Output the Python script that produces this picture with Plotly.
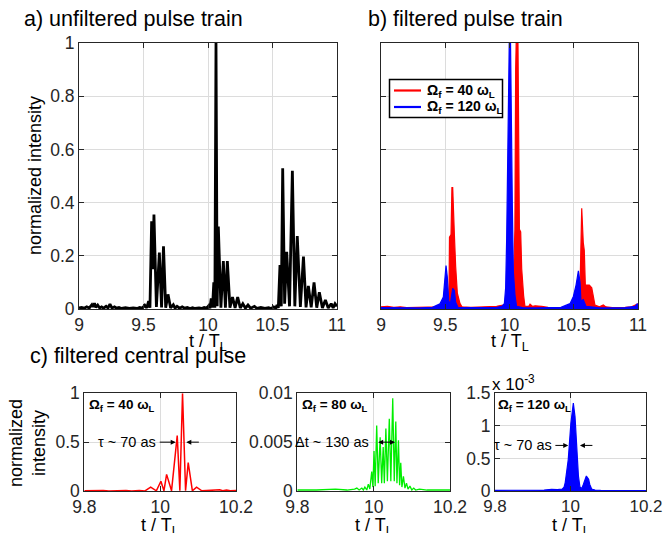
import plotly.graph_objects as go

# ---------------- data ----------------
# a) unfiltered pulse train (black)
A_T = [9.00, 9.02, 9.04, 9.06, 9.08, 9.10, 9.11, 9.12, 9.13, 9.145, 9.16, 9.175, 9.19, 9.21, 9.225,
       9.24, 9.255, 9.275, 9.29, 9.31, 9.33, 9.36, 9.39, 9.42, 9.45, 9.47, 9.49, 9.51, 9.525, 9.54,
       9.55, 9.563, 9.572, 9.581, 9.60, 9.623, 9.64, 9.655, 9.672, 9.69, 9.71, 9.731, 9.745, 9.76,
       9.78, 9.80, 9.82, 9.84, 9.86, 9.88, 9.90, 9.93, 9.95, 9.97, 9.99, 10.005, 10.015, 10.025,
       10.035, 10.045, 10.053, 10.062, 10.071, 10.08, 10.10, 10.119, 10.135, 10.15, 10.17, 10.19,
       10.21, 10.23, 10.25, 10.27, 10.29, 10.31, 10.33, 10.36, 10.38, 10.41, 10.44, 10.47, 10.49,
       10.51, 10.525, 10.535, 10.545, 10.558, 10.568, 10.579, 10.594, 10.61, 10.632, 10.654, 10.673,
       10.692, 10.716, 10.74, 10.76, 10.778, 10.80, 10.822, 10.843, 10.863, 10.887, 10.91, 10.932,
       10.955, 10.97, 10.985, 11.0]
A_Y = [0.004, 0.006, 0.003, 0.008, 0.004, 0.016, 0.008, 0.022, 0.006, 0.015, 0.004, 0.008, 0.003, 0.010, 0.004,
       0.018, 0.004, 0.008, 0.003, 0.006, 0.002, 0.005, 0.002, 0.004, 0.002, 0.006, 0.003, 0.014, 0.004, 0.030,
       0.005, 0.330, 0.150, 0.355, 0.008, 0.212, 0.006, 0.236, 0.005, 0.055, 0.004, 0.016, 0.003, 0.010,
       0.003, 0.008, 0.003, 0.006, 0.002, 0.005, 0.002, 0.004, 0.002, 0.006, 0.003, 0.012, 0.003, 0.040,
       0.005, 0.100, 0.005, 1.000, 0.010, 0.310, 0.005, 0.180, 0.005, 0.180, 0.005, 0.045,
       0.004, 0.045, 0.004, 0.020, 0.003, 0.015, 0.003, 0.010, 0.002, 0.006, 0.002, 0.005, 0.002,
       0.008, 0.003, 0.015, 0.004, 0.165, 0.010, 0.529, 0.020, 0.215, 0.010, 0.520, 0.010,
       0.274, 0.008, 0.197, 0.006, 0.087, 0.006, 0.100, 0.005, 0.063, 0.004, 0.034, 0.004,
       0.020, 0.004, 0.020, 0.010]

# b) filtered pulse train: envelopes
B_RED_T = [9.00, 9.05, 9.10, 9.15, 9.20, 9.30, 9.40, 9.45, 9.50, 9.525, 9.53, 9.533, 9.545, 9.552, 9.558,
           9.565, 9.571, 9.581, 9.594, 9.615, 9.63, 9.70, 9.80, 9.90, 9.95, 9.97, 10.00, 10.03, 10.042,
           10.048, 10.052, 10.066, 10.072, 10.077, 10.087, 10.095, 10.11, 10.12, 10.15, 10.16, 10.18,
           10.20, 10.25, 10.30, 10.40, 10.45, 10.50, 10.52, 10.54, 10.549, 10.554, 10.562, 10.574,
           10.582, 10.59, 10.621, 10.64, 10.652, 10.665, 10.70, 10.72, 10.73, 10.75, 10.80, 10.90,
           10.95, 11.00]
B_RED_Y = [0.008, 0.010, 0.006, 0.008, 0.005, 0.006, 0.005, 0.008, 0.010, 0.020, 0.100, 0.270, 0.280, 0.456, 0.456,
           0.300, 0.280, 0.160, 0.060, 0.020, 0.008, 0.006, 0.008, 0.010, 0.015, 0.020, 0.030, 0.100, 0.300,
           0.900, 1.000, 1.000, 0.500, 0.300, 0.290, 0.150, 0.050, 0.010, 0.010, 0.018, 0.010,
           0.012, 0.010, 0.006, 0.005, 0.006, 0.010, 0.015, 0.020, 0.080, 0.270, 0.379, 0.250,
           0.220, 0.090, 0.090, 0.080, 0.040, 0.015, 0.008, 0.012, 0.015, 0.008, 0.005, 0.006,
           0.008, 0.020]
B_BLUE_T = [9.00, 9.10, 9.20, 9.30, 9.40, 9.459, 9.485, 9.496, 9.506, 9.516, 9.527, 9.54, 9.558, 9.571,
            9.581, 9.60, 9.70, 9.80, 9.90, 9.94, 9.96, 9.97, 9.978, 9.985, 9.99, 9.998, 10.008, 10.015,
            10.022, 10.03, 10.043, 10.055, 10.10, 10.20, 10.30, 10.40, 10.471, 10.497, 10.518, 10.536,
            10.549, 10.556, 10.574, 10.595, 10.70, 10.80, 10.90, 10.977, 10.995, 11.0]
B_BLUE_Y = [0.005, 0.004, 0.005, 0.004, 0.006, 0.020, 0.045, 0.120, 0.163, 0.120, 0.030, 0.020, 0.078, 0.070,
            0.025, 0.005, 0.004, 0.005, 0.006, 0.010, 0.020, 0.080, 0.265, 0.550, 0.850, 1.000, 1.000, 0.600,
            0.390, 0.140, 0.050, 0.010, 0.005, 0.004, 0.004, 0.006, 0.020, 0.047, 0.090, 0.143,
            0.100, 0.030, 0.035, 0.010, 0.004, 0.004, 0.005, 0.010, 0.020, 0.010]
B_NAMES = ["Ω<sub>f</sub> = 40 ω<sub>L</sub>", "Ω<sub>f</sub> = 120 ω<sub>L</sub>"]

# c) filtered central pulse
C1_T = [9.80, 9.82, 9.835, 9.85, 9.865, 9.88, 9.895, 9.91, 9.925, 9.945, 9.96, 9.975, 9.99, 10.002, 10.01,
        10.017, 10.03, 10.045, 10.052, 10.059, 10.067, 10.074, 10.085, 10.096, 10.11, 10.125, 10.14,
        10.157, 10.165, 10.175, 10.185, 10.20]
C1_Y = [0.003, 0.005, 0.001, 0.004, 0.001, 0.003, 0.001, 0.004, 0.001, 0.006, 0.001, 0.040, 0.002, 0.100, 0.002,
        0.170, 0.002, 0.567, 0.003, 1.000, 0.003, 0.290, 0.002, 0.040, 0.002, 0.005, 0.001,
        0.012, 0.002, 0.010, 0.002, 0.004]

C2_T = [9.80, 9.85, 9.90, 9.93, 9.95, 9.956, 9.962, 9.969, 9.973, 9.977, 9.982, 9.986, 9.99, 9.995, 9.998,
        10.001, 10.004, 10.008, 10.012, 10.017, 10.021, 10.025, 10.028, 10.032, 10.036, 10.041, 10.045,
        10.050, 10.054, 10.058, 10.061, 10.065, 10.068, 10.071, 10.074, 10.078, 10.082, 10.086, 10.09,
        10.095, 10.10, 10.105, 10.11, 10.12, 10.14, 10.20]
C2_Y = [0.0001, 0.0001, 0.0002, 0.0001, 0.0002, 0.0003, 0.0001, 0.0003, 0.0001, 0.0004, 0.0001, 0.0007, 0.0002, 0.0020, 0.0004,
        0.0041, 0.0005, 0.0067, 0.0008, 0.0055, 0.0008, 0.0045, 0.0008, 0.0064, 0.0010, 0.0074, 0.0010,
        0.0095, 0.0010, 0.0071, 0.0008, 0.0052, 0.0006, 0.0029, 0.0004, 0.0015, 0.0003, 0.0008, 0.0002,
        0.0005, 0.0001, 0.0003, 0.0001, 0.0002, 0.0001, 0.0001]

C3_T = [9.80, 9.85, 9.90, 9.93, 9.95, 9.965, 9.978, 9.983, 9.986, 9.990, 9.994, 10.001, 10.005, 10.0075,
        10.012, 10.016, 10.021, 10.025, 10.03, 10.034, 10.038, 10.042, 10.048, 10.051, 10.056, 10.065,
        10.08, 10.12, 10.20]
C3_Y_E3 = [0.01, 0.01, 0.015, 0.015, 0.025, 0.02, 0.03, 0.06, 0.13, 0.30, 0.48, 1.04, 1.30, 1.35,
           1.14, 0.69, 0.23, 0.06, 0.04, 0.10, 0.18, 0.23, 0.18, 0.10, 0.03, 0.015,
           0.01, 0.008, 0.005]

TOP_XTICKS = [9, 9.5, 10, 10.5, 11]
TOP_YTICKS = [0, 0.2, 0.4, 0.6, 0.8, 1]
BOT_XTICKS = [9.8, 10, 10.2]
C1_YTICKS = [0, 0.5, 1]
C2_YTICKS = [0, 0.005, 0.01]
C3_YTICKS = [0, 0.5, 1, 1.5]

RED = "#ff0000"
BLUE = "#0000ff"
GREEN = "#00ee00"
BLACK = "#000000"

# ---------------- layout helpers ----------------
W, H = 665, 533
FONT = "Liberation Sans, Arial, Helvetica, sans-serif"
AX = "#262626"
GRID = "#dcdcdc"


def px_x(p):
    return p / W


def px_y(p):
    return 1 - p / H


def axis(dom, rng, tickvals, ticktext=None, showlabels=True, size=17.5):
    d = dict(domain=dom, range=rng, tickvals=tickvals, showline=True, linecolor=AX, linewidth=1,
             mirror="ticks", ticks="inside", ticklen=5, tickcolor=AX, showgrid=True, gridcolor=GRID,
             gridwidth=1, zeroline=False, showticklabels=showlabels, automargin=False,
             ticklabeloverflow="allow",
             tickfont=dict(family=FONT, size=size, color=AX), fixedrange=True)
    if ticktext is not None:
        d["ticktext"] = ticktext
    return d


fig = go.Figure()

# a)
fig.add_trace(go.Scatter(x=A_T, y=A_Y, mode="lines", line=dict(color=BLACK, width=2.8),
                         xaxis="x", yaxis="y", showlegend=False))
# b)
fig.add_trace(go.Scatter(x=B_RED_T, y=B_RED_Y, mode="lines", line=dict(color=RED, width=1.2),
                         fill="tozeroy", fillcolor=RED, xaxis="x2", yaxis="y2", showlegend=False,
                         name=B_NAMES[0]))
fig.add_trace(go.Scatter(x=B_BLUE_T, y=B_BLUE_Y, mode="lines", line=dict(color=BLUE, width=1.2),
                         fill="tozeroy", fillcolor=BLUE, xaxis="x2", yaxis="y2", showlegend=False,
                         name=B_NAMES[1]))
# c)
fig.add_trace(go.Scatter(x=C1_T, y=C1_Y, mode="lines", line=dict(color=RED, width=1.5),
                         xaxis="x3", yaxis="y3", showlegend=False))
fig.add_trace(go.Scatter(x=C2_T, y=C2_Y, mode="lines", line=dict(color=GREEN, width=1.3),
                         xaxis="x4", yaxis="y4", showlegend=False))
fig.add_trace(go.Scatter(x=C3_T, y=C3_Y_E3, mode="lines", line=dict(color=BLUE, width=1.2),
                         fill="tozeroy", fillcolor=BLUE, xaxis="x5", yaxis="y5", showlegend=False))

top_y = [px_y(309), px_y(43)]
bot_y = [px_y(491), px_y(393.3)]

layout = dict(
    width=W, height=H, margin=dict(l=0, r=0, t=0, b=0, autoexpand=False),
    paper_bgcolor="white", plot_bgcolor="white", showlegend=False,
    font=dict(family=FONT, color="#000000"),
    xaxis=axis([px_x(79), px_x(337)], [9, 11], TOP_XTICKS, ["9", "9.5", "10", "10.5", "11"]),
    yaxis=axis(top_y, [0, 1], TOP_YTICKS, ["0", "0.2", "0.4", "0.6", "0.8", "1"]),
    xaxis2=axis([px_x(381), px_x(638)], [9, 11], TOP_XTICKS, ["9", "9.5", "10", "10.5", "11"]),
    yaxis2=axis(top_y, [0, 1], TOP_YTICKS, showlabels=False),
    xaxis3=axis([px_x(84.3), px_x(236)], [9.8, 10.2], BOT_XTICKS, ["9.8", "10", "10.2"]),
    yaxis3=axis(bot_y, [0, 1], C1_YTICKS, ["0", "0.5", "1"]),
    xaxis4=axis([px_x(297.3), px_x(450)], [9.8, 10.2], BOT_XTICKS, ["9.8", "10", "10.2"]),
    yaxis4=axis(bot_y, [0, 0.01], C2_YTICKS, ["0", "0.005", "0.01"]),
    xaxis5=axis([px_x(495), px_x(646)], [9.8, 10.2], BOT_XTICKS, ["9.8", "10", "10.2"], size=17),
    yaxis5=axis(bot_y, [0, 1.5], C3_YTICKS, ["0", "0.5", "1", "1.5"]),
)
for i in range(2, 6):
    layout[f"xaxis{i}"]["anchor"] = f"y{i}"
    layout[f"yaxis{i}"]["anchor"] = f"x{i}"
layout["xaxis"]["anchor"] = "y"
layout["yaxis"]["anchor"] = "x"
fig.update_layout(**layout)

ann = []
shapes = []


def text(x, y, s, size, xanchor="left", yanchor="middle", angle=0):
    ann.append(dict(x=px_x(x), y=px_y(y), xref="paper", yref="paper", text=s, showarrow=False,
                    xanchor=xanchor, yanchor=yanchor, textangle=angle,
                    font=dict(family=FONT, size=size, color="#000000")))


text(22, 19, "a) unfiltered pulse train", 21.5)
text(366, 19, "b) filtered pulse train", 21.5)
text(28, 356, "c) filtered central pulse", 21.5)
text(35, 176, "normalized intensity", 18, xanchor="center", angle=-90)
text(208, 342, "t / T<sub>L</sub>", 18, xanchor="center")
text(509.5, 342, "t / T<sub>L</sub>", 18, xanchor="center")
text(27, 443, "normalized<br>intensity", 18, xanchor="center", angle=-90)
for cx in (160, 373.5, 571):
    text(cx, 526, "t / T<sub>L</sub>", 18, xanchor="center")
text(490, 383, "x 10<sup>-3</sup>", 17, xanchor="left")

# boxed key of panel b, as in the reference
shapes.append(dict(type="rect", xref="paper", yref="paper", x0=px_x(389.5), x1=px_x(502.5),
                   y0=px_y(117.5), y1=px_y(79.5), line=dict(color="#000000", width=1.5),
                   fillcolor="white", layer="above"))
for name, col, yy in ((B_NAMES[0], RED, 90.5), (B_NAMES[1], BLUE, 107)):
    shapes.append(dict(type="line", xref="paper", yref="paper", x0=px_x(394), x1=px_x(421),
                       y0=px_y(yy), y1=px_y(yy), line=dict(color=col, width=2.2), layer="above"))
    text(425, yy, f"<b>{name}</b>", 14)


def dtext(xr, yr, x, y, s, size, bold=False, xanchor="left"):
    ann.append(dict(x=x, y=y, xref=xr, yref=yr, text=(f"<b>{s}</b>" if bold else s), showarrow=False,
                    xanchor=xanchor, yanchor="middle", font=dict(family=FONT, size=size, color="#000000")))


def arrow(xr, yr, x_head, y, x_tail, both=False):
    ann.append(dict(x=x_head, y=y, ax=x_tail, ay=y, xref=xr, yref=yr, axref=xr, ayref=yr, text="",
                    showarrow=True, arrowhead=2, arrowsize=1, arrowwidth=1, arrowcolor="#000000",
                    arrowside=("end+start" if both else "end"), standoff=0, startstandoff=0))


dtext("x3", "y3", 9.807, 0.88, "Ω<sub>f</sub> = 40 ω<sub>L</sub>", 13.5, bold=True)
dtext("x4", "y4", 9.807, 0.0088, "Ω<sub>f</sub> = 80 ω<sub>L</sub>", 13.5, bold=True)
dtext("x5", "y5", 9.803, 1.32, "Ω<sub>f</sub> = 120 ω<sub>L</sub>", 13.5, bold=True)

dtext("x3", "y3", 9.994, 0.5, "τ ~ 70 as", 14.5, xanchor="right")
arrow("x3", "y3", 10.041, 0.5, 9.995)
arrow("x3", "y3", 10.069, 0.5, 10.106)

dtext("x4", "y4", 9.994, 0.005, "Δt ~ 130 as", 14.5, xanchor="right")
arrow("x4", "y4", 10.056, 0.005, 10.008, both=True)

dtext("x5", "y5", 9.955, 0.7, "τ ~ 70 as", 14.5, xanchor="right")
arrow("x5", "y5", 9.994, 0.7, 9.956)
arrow("x5", "y5", 10.025, 0.7, 10.062)

fig.update_layout(annotations=ann, shapes=shapes)
fig.write_html("out.html", config={"displayModeBar": False},
               post_script="document.body.style.margin='0';document.body.style.overflow='hidden';")
